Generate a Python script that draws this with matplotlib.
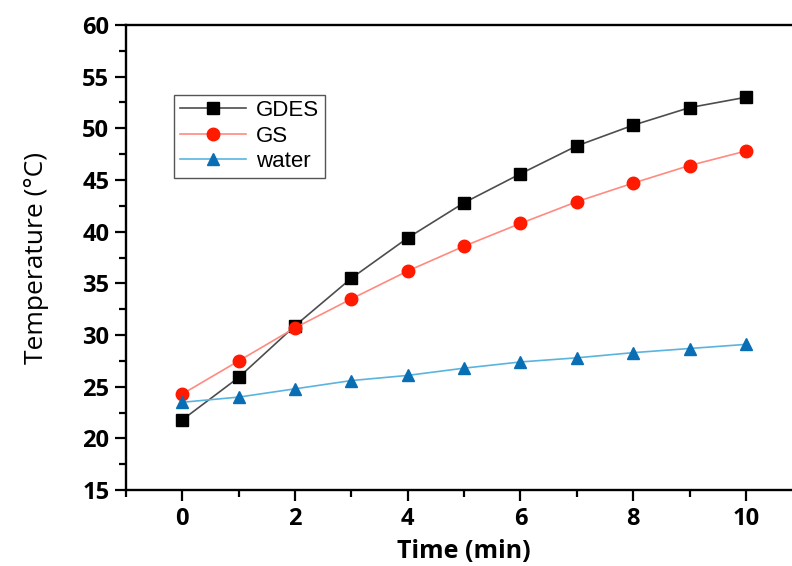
import matplotlib
matplotlib.use("Agg")
import matplotlib.pyplot as plt
from matplotlib.ticker import MultipleLocator

time_min = [0, 1, 2, 3, 4, 5, 6, 7, 8, 9, 10]
gdes = [21.8, 25.9, 30.9, 35.5, 39.4, 42.8, 45.6, 48.3, 50.3, 52.0, 53.0]
gs = [24.3, 27.5, 30.7, 33.5, 36.2, 38.6, 40.8, 42.9, 44.7, 46.4, 47.8]
water = [23.5, 24.0, 24.8, 25.6, 26.1, 26.8, 27.4, 27.8, 28.3, 28.7, 29.1]

fig = plt.figure(figsize=(7.92, 5.66), dpi=100)
# the right side of the original is cropped, so the axes run past the figure edge
ax = fig.add_axes([0.159, 0.134, 0.854, 0.822])

ax.plot(time_min, gdes, color="#4d4d4d", lw=1.2, marker="s", ms=8,
        mfc="black", mec="black", label="GDES")
ax.plot(time_min, gs, color="#ff8a80", lw=1.2, marker="o", ms=9,
        mfc="#ff1a00", mec="#ff1a00", label="GS")
ax.plot(time_min, water, color="#5ab4e0", lw=1.2, marker="^", ms=9,
        mfc="#0a6eb4", mec="#0a6eb4", label="water")

ax.set_xlim(-1, 11)
ax.set_ylim(15, 60)
ax.xaxis.set_major_locator(MultipleLocator(2))
ax.xaxis.set_minor_locator(MultipleLocator(1))
ax.yaxis.set_major_locator(MultipleLocator(5))
ax.yaxis.set_minor_locator(MultipleLocator(2.5))
ax.tick_params(which="major", direction="out", length=8, width=1.6, pad=4)
ax.tick_params(which="minor", direction="out", length=5, width=1.6)
for sp in ax.spines.values():
    sp.set_linewidth(1.7)

for lab in ax.get_xticklabels() + ax.get_yticklabels():
    lab.set_fontfamily("Open Sans")
    lab.set_fontweight("bold")
    lab.set_fontsize(17)

ax.set_xlabel("Time (min)", fontfamily="Open Sans", fontweight="bold",
              fontsize=18, labelpad=6)
ax.set_ylabel("Temperature (°C)", fontfamily="Open Sans", fontweight="normal",
              fontsize=19, labelpad=24)

leg = ax.legend(loc="upper left", bbox_to_anchor=(0.071, 0.85),
                prop={"family": "Liberation Sans", "size": 16},
                fancybox=False, edgecolor="#555555", framealpha=1,
                handlelength=3.0, borderpad=0.25, labelspacing=0.2,
                handletextpad=0.45, borderaxespad=0)
leg.get_frame().set_linewidth(1.0)

fig.savefig("out.png", dpi=100)
